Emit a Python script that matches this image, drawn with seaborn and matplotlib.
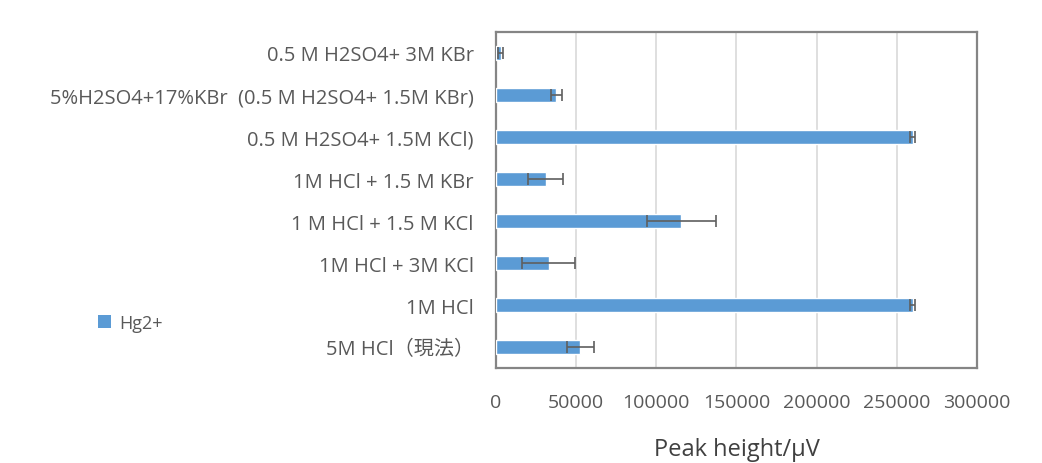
import matplotlib
matplotlib.use("Agg")
import matplotlib.pyplot as plt
from matplotlib.patches import Patch
import seaborn as sns
import pandas as pd

# Extraction media (top to bottom) and Hg2+ peak heights with their spread
media = [
    "0.5 M H2SO4+ 3M KBr",
    "5%H2SO4+17%KBr  (0.5 M H2SO4+ 1.5M KBr)",
    "0.5 M H2SO4+ 1.5M KCl)",
    "1M HCl + 1.5 M KBr",
    "1 M HCl + 1.5 M KCl",
    "1M HCl + 3M KCl",
    "1M HCl",
    "5M HCl（現法）",
]
peak_height = [3000, 37500, 260000, 31000, 115500, 33000, 260000, 52500]
peak_err = [1500, 3500, 1500, 11000, 21500, 16500, 1500, 8500]
x_ticks = [0, 50000, 100000, 150000, 200000, 250000, 300000]
series_name = "Hg2+"

BAR = "#5B9BD5"
TEXT = "#595959"
FONTS = ["Open Sans", "Noto Sans CJK JP", "DejaVu Sans"]

sns.set_theme(style="white")
plt.rcParams["font.family"] = FONTS

df = pd.DataFrame({"medium": media, "height": peak_height, "err": peak_err})

fig = plt.figure(figsize=(10.42, 4.64), dpi=100)
ax = fig.add_axes([0.476, 0.2047, 0.9376 - 0.476, 0.9289 - 0.2047])

sns.barplot(data=df, x="height", y="medium", orient="h", color=BAR,
            width=0.32, saturation=1, errorbar=None, ax=ax, zorder=3)

ax.errorbar(df["height"], range(len(df)), xerr=df["err"], fmt="none",
            ecolor="#5f5f5f", elinewidth=1.2, capsize=4.5, capthick=1.2,
            zorder=4)

ax.set_xlim(0, 300000)
ax.set_ylim(len(media) - 0.5, -0.5)
ax.set_xticks(x_ticks)
ax.set_xticklabels([str(v) for v in x_ticks])
ax.grid(axis="x", color="#D9D9D9", linewidth=1.2, zorder=0)
ax.grid(axis="y", visible=False)

for s in ax.spines.values():
    s.set_visible(True)
    s.set_color("#858585")
    s.set_linewidth(1.6)

ax.tick_params(axis="x", length=0, pad=18, labelsize=14, labelcolor=TEXT)
ax.tick_params(axis="y", length=0, pad=16, labelsize=14.5, labelcolor=TEXT)
ax.set_ylabel("")
ax.set_xlabel("Peak height/μV", fontsize=17, color="#404040", labelpad=19)

ax.legend(handles=[Patch(facecolor=BAR, edgecolor="none", label=series_name)],
          loc="center left", bbox_to_anchor=(0.078, 0.302),
          bbox_transform=fig.transFigure, frameon=False,
          handlelength=0.75, handleheight=0.75, handletextpad=0.45,
          prop={"size": 13}, labelcolor=TEXT)

fig.savefig("out.png", dpi=100, facecolor="white")
